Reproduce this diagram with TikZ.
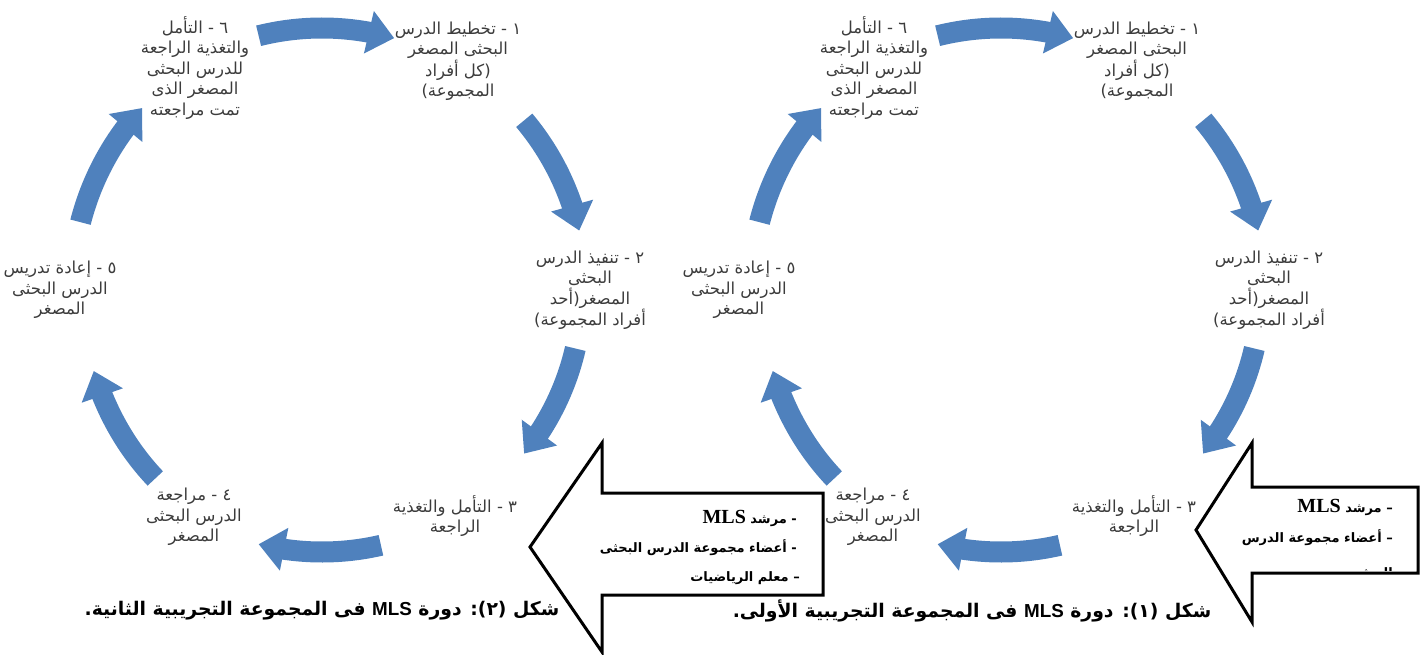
\documentclass[tikz,border=0pt]{standalone}
\usepackage{fontspec}
\setmainfont{Liberation Serif}
\newfontfamily\arabicfont[Script=Arabic]{DejaVu Sans}
\newfontfamily\capsans{Liberation Sans}
\TeXXeTstate=1
\usetikzlibrary{arrows.meta,bending}
\definecolor{arrowblue}{RGB}{79,129,189}
\definecolor{labelgray}{RGB}{60,60,60}
\newcommand{\AR}[1]{\beginR #1\endR}
\tikzset{
  lbl/.style={font=\arabicfont\fontsize{16.5}{20.5}\selectfont, align=center, text=labelgray, inner sep=0pt},
  cycarrow/.style={draw=arrowblue, line width=21pt, -{Triangle[length=26pt,width=42pt,flex]}},
  bigarrow/.style={draw=black, line width=3pt, fill=white, line join=miter},
  boxtxt/.style={font=\arabicfont\bfseries\fontsize{13}{15}\selectfont, anchor=east, inner sep=0pt},
  captxt/.style={font=\arabicfont\bfseries\fontsize{18.8}{22}\selectfont, inner sep=0pt},
}
\newcommand{\mls}{{\rmfamily\bfseries\fontsize{20}{20}\selectfont MLS}}
\newcommand{\cycle}[2]{%
  % #1 = x offset, #2 = suffix
  \coordinate (c#2) at (322+#1,-290);
  \node[lbl] (t1#2) at (458+#1,-61)  {\AR{١ - تخطيط الدرس}\\\AR{البحثى المصغر}\\\AR{(كل أفراد}\\\AR{المجموعة)}};
  \node[lbl] (t2#2) at (590+#1,-290) {\AR{٢ - تنفيذ الدرس}\\\AR{البحثى}\\\AR{المصغر(أحد}\\\AR{أفراد المجموعة)}};
  \node[lbl] (t3#2) at (455+#1,-516) {\AR{٣ - التأمل والتغذية}\\\AR{الراجعة}};
  \node[lbl] (t4#2) at (194+#1,-517) {\AR{٤ - مراجعة}\\\AR{الدرس البحثى}\\\AR{المصغر}};
  \node[lbl] (t5#2) at (60+#1,-290)  {\AR{٥ - إعادة تدريس}\\\AR{الدرس البحثى}\\\AR{المصغر}};
  \node[lbl] (t6#2) at (195+#1,-68)  {\AR{٦ - التأمل}\\\AR{والتغذية الراجعة}\\\AR{للدرس البحثى}\\\AR{المصغر الذى}\\\AR{تمت مراجعته}};
  \draw[cycarrow] ([shift={(104:262)}]c#2) arc[start angle=104, end angle=74, radius=262];
  \draw[cycarrow] ([shift={(40:264)}]c#2) arc[start angle=40, end angle=13, radius=264];
  \draw[cycarrow] ([shift={(-13:260)}]c#2) arc[start angle=-13, end angle=-39, radius=260];
  \draw[cycarrow] ([shift={(-77:262)}]c#2) arc[start angle=-77, end angle=-104, radius=262];
  \draw[cycarrow] ([shift={({240*cos(-134)},{262*sin(-134)})}]c#2) arc[start angle=-134, end angle=-162, x radius=240, y radius=262];
  \draw[cycarrow] ([shift={({250*cos(165)},{262*sin(165)})}]c#2) arc[start angle=165, end angle=136, x radius=250, y radius=262];
}
\begin{document}
\begin{tikzpicture}[x=1pt,y=1pt]
\useasboundingbox (0,0) rectangle (1426,-655);
\cycle{0}{L}
\cycle{679}{R}
% captions
\node[captxt] (capL) at (322,-611) {\AR{شكل (٢): دورة {\capsans\bfseries MLS} فى المجموعة التجريبية الثانية.}};
\node[captxt] (capR) at (972,-611) {\AR{شكل (١): دورة {\capsans\bfseries MLS} فى المجموعة التجريبية الأولى.}};
% left big arrow
\draw[bigarrow] (823,-493) -- (602,-493) -- (602,-443) -- (530,-547) -- (602,-652) -- (602,-595) -- (823,-595) -- cycle;
\node[boxtxt] (bl1) at (797,-518) {\AR{-  مرشد \mls}};
\node[boxtxt] (bl2) at (797,-548) {\AR{- أعضاء مجموعة الدرس البحثى}};
\node[boxtxt] (bl3) at (800,-578) {\AR{–  معلم الرياضيات}};
% right big arrow
\draw[bigarrow] (1418,-487) -- (1252,-487) -- (1252,-443) -- (1196,-530) -- (1252,-622) -- (1252,-573) -- (1418,-573) -- cycle;
\node[boxtxt] (br1) at (1393,-507) {\AR{– مرشد \mls}};
\node[boxtxt] (br2) at (1393,-538) {\AR{– أعضاء مجموعة الدرس}};
\begin{scope}
\clip (1255,-489) rectangle (1416,-570);
\node[boxtxt] (br3) at (1393,-574) {\AR{البحثى}};
\end{scope}
\end{tikzpicture}
\end{document}
